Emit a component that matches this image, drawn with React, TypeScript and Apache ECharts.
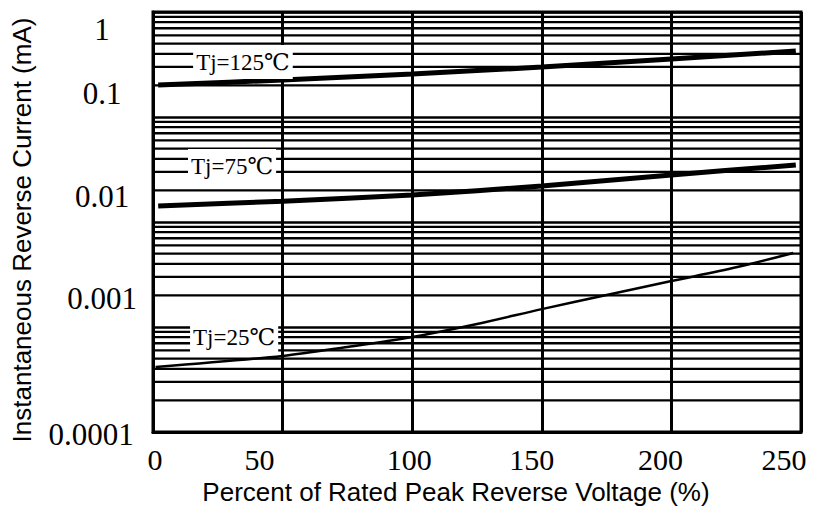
import React, { useEffect, useRef } from "react";
import * as echarts from "echarts";

const xTickLabels = ["0", "50", "100", "150", "200", "250"];
const yTickLabels = ["0.0001", "0.001", "0.01", "0.1", "1"];

const xPct = [2, 50, 100, 150, 200, 248];
const tj125 = [0.202, 0.225, 0.257, 0.299, 0.357, 0.425];
const tj75 = [0.0142, 0.0158, 0.0181, 0.022, 0.0281, 0.0349];

const xPct25 = [1, 50, 75, 100, 125, 150, 175, 200, 225, 247];
const tj25 = [4.16e-4, 5.3e-4, 6.45e-4, 8.03e-4, 1.07e-3, 1.48e-3, 2.02e-3, 2.74e-3, 3.7e-3, 5.07e-3];

const curveNames = ["Tj=125℃", "Tj=75℃", "Tj=25℃"];
const labelX = [34.7, 30.5, 31.3];
const labelY = [0.334, 0.0341, 0.000803];

const minorMantissas = [2, 3, 4, 5, 6, 7, 8, 9];
const decades = [0.0001, 0.001, 0.01, 0.1];

const SERIF = "'Liberation Serif', 'Times New Roman', 'DejaVu Serif', serif";
const SANS = "'Liberation Sans', Arial, sans-serif";

export default function App() {
  const ref = useRef<HTMLDivElement>(null);
  useEffect(() => {
    if (!ref.current) return;
    const chart = echarts.init(ref.current, null, { renderer: "svg" });
    const minorData: any[] = [];
    decades.forEach((d) =>
      minorMantissas.forEach((m) => {
        const v = m * d;
        minorData.push([0, v], [250, v], [250, "-"]);
      })
    );

    const yRichBase = { fontSize: 31, fontFamily: SERIF, color: "#000" };
    const xRichBase = { fontSize: 30, fontFamily: SERIF, color: "#000" };

    const option: any = {
      animation: false,
      backgroundColor: "#fff",
      grid: {
        left: 153,
        right: 14,
        top: 12,
        bottom: 83,
        show: true,
        borderColor: "#000",
        borderWidth: 3,
        backgroundColor: "transparent",
      },
      xAxis: {
        type: "value",
        min: 0,
        max: 250,
        interval: 50,
        name: "Percent of Rated Peak Reverse Voltage (%)",
        nameLocation: "middle",
        nameGap: 44,
        nameTextStyle: { fontSize: 26, fontFamily: SANS, color: "#000", padding: [0, 42, 0, 0] },
        axisLine: { show: true, lineStyle: { color: "#000", width: 3 } },
        axisTick: { show: false },
        splitLine: { show: true, lineStyle: { color: "#000", width: 3 } },
        axisLabel: {
          margin: 12,
          formatter: (v: number) => {
            const i = Math.round(v / 50);
            return `{x${i}|${xTickLabels[i]}}`;
          },
          rich: {
            x0: { ...xRichBase, padding: [0, 0, 0, 4] },
            x1: { ...xRichBase, padding: [0, 46, 0, 0] },
            x2: { ...xRichBase, padding: [0, 6, 0, 0] },
            x3: { ...xRichBase, padding: [0, 20, 0, 0] },
            x4: { ...xRichBase, padding: [0, 22, 0, 0] },
            x5: { ...xRichBase, padding: [0, 34, 0, 0] },
          },
        },
      },
      yAxis: {
        type: "log",
        logBase: 10,
        min: 0.0001,
        max: 1,
        name: "Instantaneous Reverse Current (mA)",
        nameLocation: "middle",
        nameGap: 118,
        nameTextStyle: { fontSize: 26, fontFamily: SANS, color: "#000", padding: [0, 16, 0, 0] },
        axisLine: { show: true, lineStyle: { color: "#000", width: 3 } },
        axisTick: { show: false },
        splitLine: { show: true, lineStyle: { color: "#000", width: 2.5 } },
        axisLabel: {
          align: "center",
          margin: 51,
          formatter: (v: number) => {
            const i = Math.round(Math.log10(v)) + 4;
            return `{y${i}|${yTickLabels[i]}}`;
          },
          rich: {
            y0: { ...yRichBase, padding: [4, 22, 0, 0] },
            y1: { ...yRichBase, padding: [0, 0, 58, 0] },
            y2: { ...yRichBase, padding: [0, 0, 52, 0] },
            y3: { ...yRichBase, padding: [0, 0, 48, 0] },
            y4: { ...yRichBase, padding: [34, 0, 0, 0] },
          },
        },
      },
      series: [
        {
          name: "minor-grid",
          type: "line",
          data: minorData,
          z: 1,
          silent: true,
          showSymbol: false,
          connectNulls: false,
          lineStyle: { color: "#000", width: 2.3 },
        },
        {
          name: curveNames[0],
          type: "line",
          data: xPct.map((x, i) => [x, tj125[i]]),
          smooth: 0.3,
          showSymbol: false,
          z: 5,
          lineStyle: { color: "#000", width: 5 },
        },
        {
          name: curveNames[1],
          type: "line",
          data: xPct.map((x, i) => [x, tj75[i]]),
          smooth: 0.3,
          showSymbol: false,
          z: 5,
          lineStyle: { color: "#000", width: 5 },
        },
        {
          name: curveNames[2],
          type: "line",
          data: xPct25.map((x, i) => [x, tj25[i]]),
          smooth: 0.3,
          showSymbol: false,
          z: 5,
          lineStyle: { color: "#000", width: 2.5 },
        },
        {
          name: "labels",
          type: "scatter",
          symbolSize: 0,
          z: 6,
          silent: true,
          itemStyle: { opacity: 1, color: "#000" },
          data: curveNames.map((n, i) => ({ name: n, value: [labelX[i], labelY[i]] })),
          label: {
            show: true,
            position: "inside",
            formatter: (p: any) => p.name,
            fontSize: 23,
            fontFamily: SERIF,
            color: "#000",
            opacity: 1,
            textBorderWidth: 0,
            backgroundColor: "#fff",
            padding: [6, 3, 5, 3],
          },
        },
      ],
    };
    chart.setOption(option);
    return () => chart.dispose();
  }, []);
  return (
    <div
      ref={ref}
      style={{ position: "absolute", left: 0, top: 0, width: 815, height: 515 }}
    />
  );
}
